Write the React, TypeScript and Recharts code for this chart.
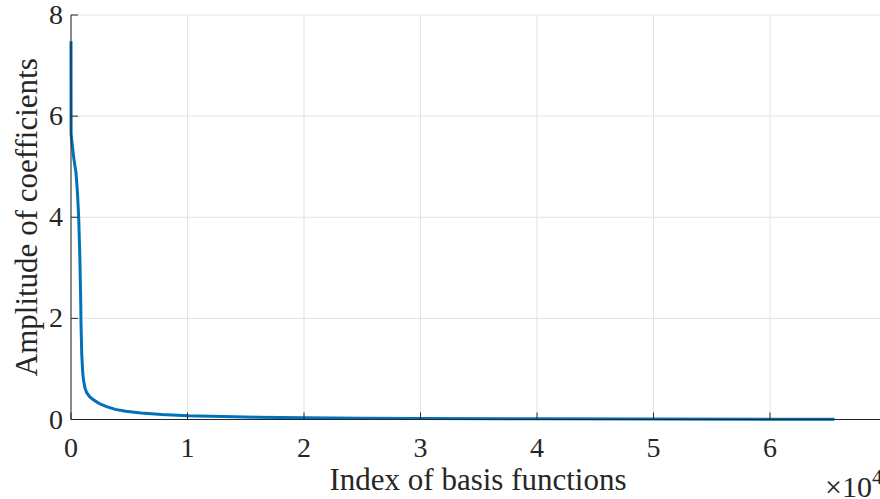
import React from 'react';
import { LineChart, Line, XAxis, YAxis, CartesianGrid, Label } from 'recharts';

const indices = [0, 10, 100, 250, 430, 550, 660, 760, 830, 860, 920, 1000, 1060, 1200, 1350, 1600, 1860, 2400, 3000, 3800, 4700, 6000, 7800, 10000, 13000, 16000, 20000, 25000, 30000, 40000, 50000, 60000, 65536];
const amplitudes = [7.48, 5.65, 5.45, 5.15, 4.88, 4.5, 4.0, 3.2, 2.4, 1.9, 1.3, 0.95, 0.8, 0.62, 0.53, 0.45, 0.4, 0.32, 0.26, 0.2, 0.165, 0.13, 0.1, 0.075, 0.058, 0.046, 0.035, 0.027, 0.021, 0.014, 0.01, 0.007, 0.006];
const xTicks = [0, 10000, 20000, 30000, 40000, 50000, 60000, 70000];
const yTicks = [0, 2, 4, 6, 8];

const data = indices.map((x, i) => ({ x, y: amplitudes[i] }));

const AXIS = '#262626';
const txt: React.CSSProperties = { fontFamily: "'Liberation Serif'" };

const XTick = (props: any) => {
  const { x, y, payload } = props;
  return (
    <g>
      <line x1={x} y1={y} x2={x} y2={y - 7} stroke={AXIS} strokeWidth={1} />
      <text x={x} y={y + 37} textAnchor="middle" style={txt} fontSize={28} fill={AXIS}>
        {payload.value / 10000}
      </text>
    </g>
  );
};

const TopTick = (props: any) => {
  const { x, y } = props;
  return <line x1={x} y1={y} x2={x} y2={y + 7} stroke={AXIS} strokeWidth={1} />;
};

const YTick = (props: any) => {
  const { x, y, payload } = props;
  return (
    <g>
      <line x1={x} y1={y} x2={x + 7} y2={y} stroke={AXIS} strokeWidth={1} />
      <text x={x - 8} y={y + 9} textAnchor="end" style={txt} fontSize={28} fill={AXIS}>
        {payload.value}
      </text>
    </g>
  );
};

export default function App() {
  return (
    <div style={{ position: 'fixed', left: 0, top: 0, width: 880, height: 499, overflow: 'hidden', background: '#fff' }}>
      <LineChart width={900} height={499} data={data} margin={{ top: 15, right: 13.5, left: 0, bottom: 0 }}>
        <CartesianGrid stroke="#e3e3e3" strokeWidth={1} horizontalValues={yTicks} verticalValues={xTicks} />
        <XAxis
          dataKey="x"
          type="number"
          domain={[0, 70000]}
          ticks={xTicks}
          interval={0}
          height={79.5}
          tickSize={0}
          tickMargin={0}
          tick={<XTick />}
          axisLine={{ stroke: AXIS, strokeWidth: 1 }}
          tickLine={false}
        />
        <XAxis
          xAxisId="top"
          orientation="top"
          dataKey="x"
          type="number"
          domain={[0, 70000]}
          ticks={xTicks}
          interval={0}
          height={0}
          tickSize={0}
          tickMargin={0}
          tick={<TopTick />}
          axisLine={{ stroke: AXIS, strokeWidth: 1 }}
          tickLine={false}
        />
        <YAxis
          dataKey="y"
          type="number"
          domain={[0, 8]}
          ticks={yTicks}
          interval={0}
          width={71}
          tickSize={0}
          tickMargin={0}
          tick={<YTick />}
          axisLine={{ stroke: AXIS, strokeWidth: 1 }}
          tickLine={false}
        >
          <Label
            content={(p: any) => {
              const vb = p.viewBox || {};
              const cx = 37;
              const cy = (vb.y ?? 15) + (vb.height ?? 405) / 2;
              return (
                <text x={cx} y={cy} transform={`rotate(-90, ${cx}, ${cy})`} textAnchor="middle" style={txt} fontSize={31} fill={AXIS}>
                  Amplitude of coefficients
                </text>
              );
            }}
          />
        </YAxis>
        <Line
          dataKey="y"
          type="linear"
          stroke="#0072BD"
          strokeWidth={3}
          dot={false}
          isAnimationActive={false}
        />
        <text x={478} y={490} textAnchor="middle" style={txt} fontSize={31} fill={AXIS}>
          Index of basis functions
        </text>
        <text x={825} y={497} style={txt} fontSize={30} fill={AXIS}>
          ×10
          <tspan dy={-13} fontSize={21}>4</tspan>
        </text>
      </LineChart>
    </div>
  );
}
